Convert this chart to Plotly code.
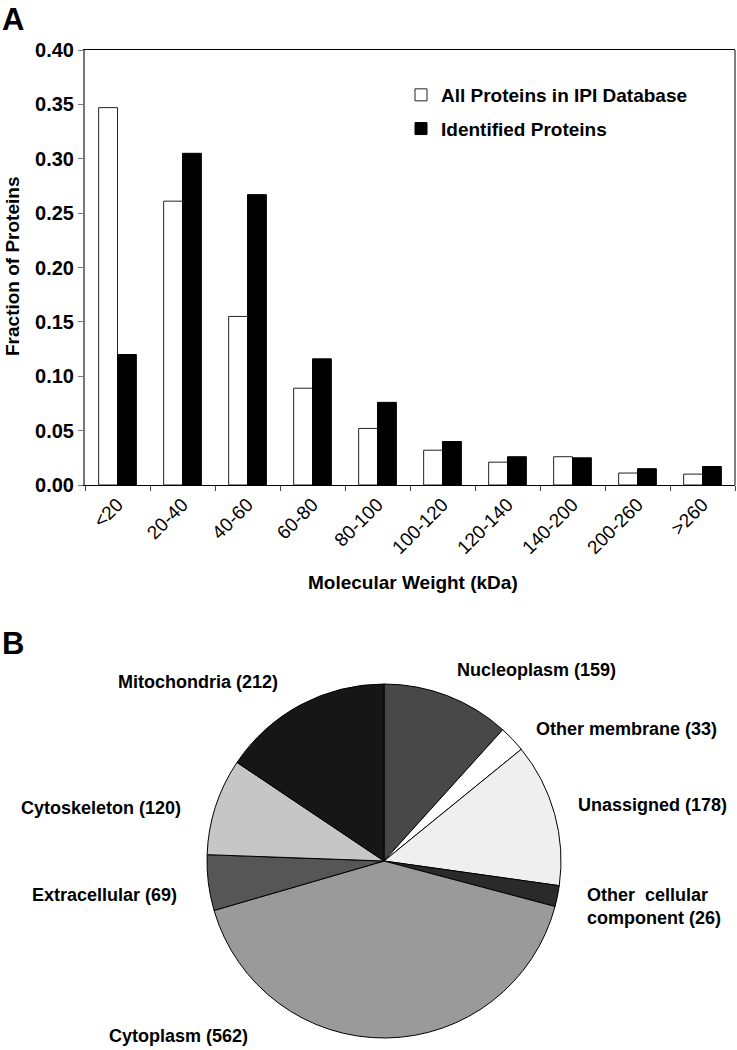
import plotly.graph_objects as go

W, H = 737, 1050

# ---- Data: panel A ----
mw_categories = ["<20", "20-40", "40-60", "60-80", "80-100", "100-120",
                 "120-140", "140-200", "200-260", ">260"]
all_ipi = [0.347, 0.261, 0.155, 0.089, 0.052, 0.032, 0.021, 0.026, 0.011, 0.010]
identified = [0.120, 0.305, 0.267, 0.116, 0.076, 0.040, 0.026, 0.025, 0.015, 0.017]
yticks = [0.00, 0.05, 0.10, 0.15, 0.20, 0.25, 0.30, 0.35, 0.40]

# ---- Data: panel B ----
loc_names = ["Nucleoplasm", "Other membrane", "Unassigned", "Other  cellular component",
             "Cytoplasm", "Extracellular", "Cytoskeleton", "Mitochondria"]
loc_counts = [159, 33, 178, 26, 562, 69, 120, 212]
loc_colors = ["#484848", "#ffffff", "#efefef", "#2a2a2a",
              "#9a9a9a", "#565656", "#c6c6c6", "#161616"]

FONT = "Liberation Sans, Arial, Helvetica, sans-serif"

def px_x(x):
    return x / W

def px_y(y):
    return 1 - y / H

fig = go.Figure()

fig.add_trace(go.Bar(
    x=mw_categories, y=all_ipi, name="All Proteins in IPI Database",
    marker=dict(color="white", line=dict(color="#222", width=1)),
    legendgroup="a",
))
fig.add_trace(go.Bar(
    x=mw_categories, y=identified, name="Identified Proteins",
    marker=dict(color="black", line=dict(color="black", width=1)),
    legendgroup="b",
))

fig.add_trace(go.Pie(
    labels=loc_names, values=loc_counts, sort=False, direction="clockwise",
    rotation=0, textinfo="none", hoverinfo="label+value",
    marker=dict(colors=loc_colors, line=dict(color="black", width=1)),
    domain=dict(x=[px_x(384 - 177), px_x(384 + 177)], y=[px_y(1038), px_y(684)]),
    showlegend=False,
))

fig.update_layout(
    width=W, height=H,
    margin=dict(l=0, r=0, t=0, b=0, autoexpand=False),
    paper_bgcolor="white", plot_bgcolor="white",
    font=dict(family=FONT, color="black"),
    barmode="group", bargap=0.42, bargroupgap=0.0,
    xaxis=dict(
        domain=[px_x(85), px_x(735)],
        showline=True, linecolor="black", linewidth=1, mirror=True,
        ticks="outside", tickson="boundaries", ticklen=5, tickcolor="#444",
        tickangle=-45, tickfont=dict(size=19, family=FONT),
        showgrid=False, automargin=False,
    ),
    yaxis=dict(
        domain=[px_y(485), px_y(50)],
        range=[0, 0.40], tickvals=yticks, tickformat=".2f",
        showline=True, linecolor="#777", linewidth=2,
        ticks="outside", ticklen=5, tickcolor="#777",
        tickfont=dict(size=20, family=FONT, weight="bold"),
        showgrid=False, zeroline=False, automargin=False,
    ),
    legend=dict(
        x=px_x(401), y=px_y(76), xanchor="left", yanchor="top",
        font=dict(size=19, family=FONT, weight="bold"),
        bgcolor="rgba(0,0,0,0)", tracegroupgap=6,
        traceorder="grouped",
    ),
)

# right border of the bar panel
fig.add_shape(type="line", xref="paper", yref="paper",
              x0=px_x(735), x1=px_x(735), y0=px_y(485), y1=px_y(50),
              line=dict(color="black", width=1))

annotations = [
    dict(text="A", x=px_x(0), y=px_y(0), xanchor="left", yanchor="top",
         font=dict(size=31, weight="bold")),
    dict(text="B", x=px_x(0), y=px_y(624), xanchor="left", yanchor="top",
         font=dict(size=31, weight="bold")),
    dict(text="Fraction of Proteins", x=px_x(13), y=px_y(267), textangle=-90,
         xanchor="center", yanchor="middle", font=dict(size=19, weight="bold")),
    dict(text="Molecular Weight (kDa)", x=px_x(413), y=px_y(582),
         xanchor="center", yanchor="middle", font=dict(size=19, weight="bold")),
]

# pie labels (text positions)
label_pos = {
    "Mitochondria": (198, 682, "center"),
    "Cytoskeleton": (101, 808, "center"),
    "Extracellular": (105, 895, "center"),
    "Cytoplasm": (178, 1036, "center"),
    "Nucleoplasm": (536, 670, "center"),
    "Other membrane": (626, 729, "center"),
    "Unassigned": (652, 805, "center"),
    "Other  cellular component": (585, 906, "left"),
}
for name, cnt in zip(loc_names, loc_counts):
    x, y, anchor = label_pos[name]
    txt = f"{name} ({cnt})"
    if name.startswith("Other  cellular"):
        txt = f"Other  cellular<br>component ({cnt})"
    annotations.append(dict(
        text=txt, x=px_x(x), y=px_y(y), xanchor=anchor, yanchor="middle",
        align="left", font=dict(size=18, weight="bold"),
    ))

fig.update_layout(annotations=[dict(a, xref="paper", yref="paper", showarrow=False)
                               for a in annotations])

fig.write_html(
    "out.html",
    config={"displayModeBar": False},
    post_script="document.body.style.margin='0';document.body.style.overflow='hidden';",
)
